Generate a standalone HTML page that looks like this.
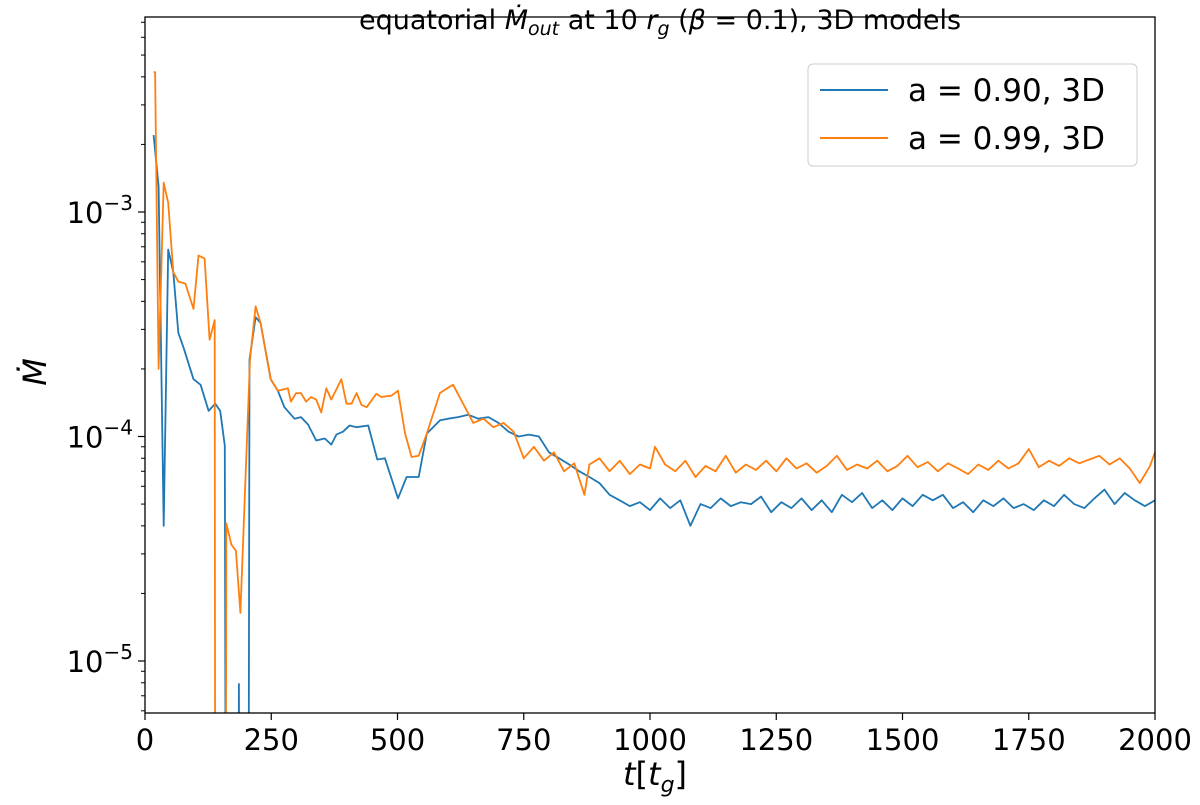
<!DOCTYPE html>
<html><head><meta charset="utf-8"><style>
html,body{margin:0;background:#fff;overflow:hidden;width:1200px;height:805px}
svg{display:block}
svg text{font-family:"DejaVu Sans","Liberation Sans",sans-serif;fill:#000}
</style></head><body>
<svg id="chart" width="1200" height="805" xmlns="http://www.w3.org/2000/svg">
<defs><clipPath id="clip"><rect x="145" y="17" width="1010" height="696"/></clipPath></defs>
<text x="660" y="29" font-size="27" text-anchor="middle">equatorial <tspan font-style="italic">Ṁ</tspan><tspan font-style="italic" font-size="19" dy="6">out</tspan><tspan dy="-6"> at 10 </tspan><tspan font-style="italic">r</tspan><tspan font-style="italic" font-size="19" dy="6">g</tspan><tspan dy="-6"> (</tspan><tspan font-style="italic">β</tspan> = 0.1), 3D models</text>
<g id="axes"></g>
<g id="series" clip-path="url(#clip)"></g>
<rect x="145" y="17" width="1010" height="696" fill="none" stroke="#000" stroke-width="1.3"/>
<text transform="translate(46,372) rotate(-90)" font-size="32" font-style="italic" text-anchor="middle">Ṁ</text>
<text x="655" y="785" font-size="32" text-anchor="middle"><tspan font-style="italic">t</tspan>[<tspan font-style="italic">t</tspan><tspan font-style="italic" font-size="22" dy="7">g</tspan><tspan dy="-7">]</tspan></text>
<g>
<rect x="808" y="64" width="329" height="102" rx="5" fill="#fff" stroke="#ccc" stroke-width="1"/>
<line x1="820" y1="90" x2="888" y2="90" stroke="#1f77b4" stroke-width="2"/>
<text x="908" y="101" font-size="31">a = 0.90, 3D</text>
<line x1="820" y1="138" x2="888" y2="138" stroke="#ff7f0e" stroke-width="2"/>
<text x="908" y="149" font-size="31">a = 0.99, 3D</text>
</g>
</svg>
<script>
const xTicks=[0,250,500,750,1000,1250,1500,1750,2000];
const yTickExps=[-3,-4,-5];
const blueT=[17,27,37,46,56,66,76,96,110,126,139,149,158,160,185,186,187,205,207,219,229,249,263,276,296,309,323,339,356,369,379,392,405,419,442,460,475,501,518,542,558,584,600,620,640,660,680,700,720,740,760,780,800,820,840,860,880,900,920,940,960,980,1000,1020,1040,1060,1080,1100,1120,1140,1160,1180,1200,1220,1240,1260,1280,1300,1320,1340,1360,1380,1400,1420,1440,1460,1480,1500,1520,1540,1560,1580,1600,1620,1640,1660,1680,1700,1720,1740,1760,1780,1800,1820,1840,1860,1880,1900,1920,1940,1960,1980,2000];
const blueV=[2.2e-3,1.3e-3,4.0e-5,6.8e-4,5.4e-4,2.9e-4,2.5e-4,1.8e-4,1.7e-4,1.3e-4,1.4e-4,1.3e-4,9.1e-5,1e-6,1e-6,7.9e-6,1e-6,1e-6,2.2e-4,3.4e-4,3.2e-4,1.8e-4,1.6e-4,1.35e-4,1.2e-4,1.22e-4,1.13e-4,9.6e-5,9.8e-5,9.2e-5,1.02e-4,1.05e-4,1.12e-4,1.1e-4,1.12e-4,7.9e-5,8e-5,5.3e-5,6.6e-5,6.6e-5,1.03e-4,1.18e-4,1.2e-4,1.22e-4,1.25e-4,1.2e-4,1.22e-4,1.15e-4,1.05e-4,1.0e-4,1.02e-4,1.0e-4,8.5e-5,8e-5,7.5e-5,7e-5,6.6e-5,6.2e-5,5.5e-5,5.2e-5,4.9e-5,5.1e-5,4.7e-5,5.3e-5,4.8e-5,5.2e-5,4.0e-5,5.0e-5,4.8e-5,5.3e-5,4.9e-5,5.1e-5,5.0e-5,5.4e-5,4.6e-5,5.1e-5,4.8e-5,5.3e-5,4.7e-5,5.2e-5,4.6e-5,5.5e-5,5.1e-5,5.6e-5,4.8e-5,5.2e-5,4.7e-5,5.3e-5,4.9e-5,5.5e-5,5.2e-5,5.5e-5,4.8e-5,5.1e-5,4.6e-5,5.2e-5,4.9e-5,5.3e-5,4.8e-5,5.0e-5,4.7e-5,5.2e-5,4.9e-5,5.5e-5,5.0e-5,4.8e-5,5.3e-5,5.8e-5,5.0e-5,5.6e-5,5.2e-5,4.9e-5,5.2e-5];
const orangeT=[17,20,27,37,46,56,66,80,96,106,118,128,138,139,160,161,171,180,189,208,219,229,249,263,283,289,299,309,319,329,339,349,359,369,389,399,409,419,429,439,458,468,488,501,515,528,542,558,584,600,610,630,650,670,690,710,730,750,770,790,810,830,850,870,880,900,920,940,960,980,1000,1010,1030,1050,1070,1090,1110,1130,1150,1170,1190,1210,1230,1250,1270,1290,1310,1330,1350,1370,1390,1410,1430,1450,1470,1490,1510,1530,1550,1570,1590,1610,1630,1650,1670,1690,1710,1730,1750,1770,1790,1810,1830,1850,1870,1890,1910,1930,1950,1970,1990,2000];
const orangeV=[4.2e-3,4.2e-3,2.0e-4,1.35e-3,1.1e-3,5.4e-4,4.9e-4,4.8e-4,3.7e-4,6.4e-4,6.2e-4,2.7e-4,3.3e-4,1e-6,1e-6,4.1e-5,3.3e-5,3.1e-5,1.64e-5,2.2e-4,3.8e-4,3.2e-4,1.8e-4,1.6e-4,1.64e-4,1.43e-4,1.56e-4,1.56e-4,1.43e-4,1.5e-4,1.46e-4,1.28e-4,1.64e-4,1.46e-4,1.8e-4,1.4e-4,1.4e-4,1.56e-4,1.38e-4,1.35e-4,1.55e-4,1.5e-4,1.52e-4,1.6e-4,1.03e-4,8.1e-5,8.2e-5,1.03e-4,1.56e-4,1.65e-4,1.7e-4,1.4e-4,1.15e-4,1.2e-4,1.1e-4,1.15e-4,1.05e-4,8e-5,9e-5,7.8e-5,8.5e-5,7e-5,7.6e-5,5.5e-5,7.5e-5,8e-5,7e-5,7.8e-5,6.8e-5,7.5e-5,7.2e-5,9e-5,7.5e-5,7e-5,7.8e-5,6.6e-5,7.4e-5,7.0e-5,8.2e-5,6.9e-5,7.5e-5,7.1e-5,7.8e-5,7e-5,8e-5,7.2e-5,7.6e-5,6.9e-5,7.4e-5,8.2e-5,7.1e-5,7.5e-5,7.2e-5,7.8e-5,7e-5,7.4e-5,8.2e-5,7.3e-5,7.7e-5,7e-5,7.6e-5,7.2e-5,6.8e-5,7.5e-5,7.1e-5,7.8e-5,7.2e-5,7.6e-5,8.8e-5,7.3e-5,7.8e-5,7.4e-5,8e-5,7.6e-5,7.9e-5,8.2e-5,7.5e-5,8e-5,7.2e-5,6.2e-5,7.4e-5,8.5e-5];

const NS='http://www.w3.org/2000/svg';
const X0=145,X1=1155,Y3=212,DEC=224.5;
function xs(t){return X0+(t/2000)*(X1-X0);}
function ys(v){return Y3-(Math.log10(v)+3)*DEC;}
function mk(tag,attrs,parent){const e=document.createElementNS(NS,tag);for(const k in attrs)e.setAttribute(k,attrs[k]);parent.appendChild(e);return e;}
const axes=document.getElementById('axes');
xTicks.forEach(t=>{
  const l=mk('line',{x1:xs(t),x2:xs(t),y1:713,y2:720,stroke:'#000','stroke-width':1.2},axes);
  
  
  const tx=mk('text',{x:xs(t),y:750,'font-size':29,'text-anchor':'middle'},axes);
  tx.textContent=t;
  
  
});
yTickExps.forEach(e=>{
  const y=ys(Math.pow(10,e));
  const l=mk('line',{x1:138,x2:145,y1:y,y2:y,stroke:'#000','stroke-width':1.2},axes);
  
  
  const tx=mk('text',{x:133,y:y+11,'font-size':29,'text-anchor':'end'},axes);
  tx.innerHTML='10<tspan font-size="20" dy="-13">−'+(-e)+'</tspan>';
  
  
});
for(let e=-6;e<=-3;e++){for(let m=2;m<=9;m++){
  const y=ys(m*Math.pow(10,e));
  if(y<17||y>713)continue;
  const l=mk('line',{x1:141,x2:145,y1:y,y2:y,stroke:'#000','stroke-width':1},axes);
  
  
}}
const ser=document.getElementById('series');
function draw(T,V,color,name){
  const d=T.map((t,i)=>(i?'L':'M')+xs(t).toFixed(1)+' '+ys(V[i]).toFixed(1)).join(' ');
  const p=mk('path',{d:d,fill:'none',stroke:color,'stroke-width':1.8,'stroke-linejoin':'round'},ser);
  
  
}
draw(blueT,blueV,'#1f77b4','line-a090');
draw(orangeT,orangeV,'#ff7f0e','line-a099');
</script>
</body></html>
